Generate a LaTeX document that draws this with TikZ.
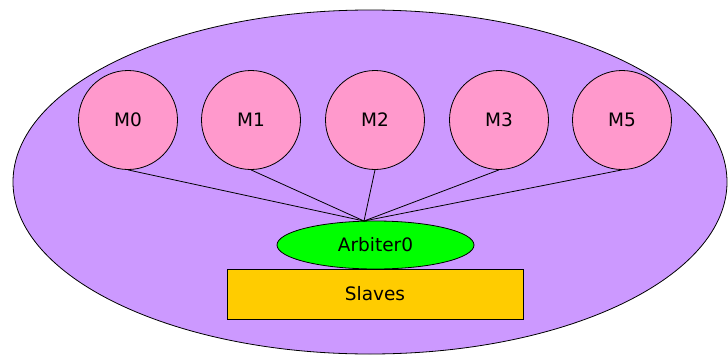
\documentclass[tikz,border=0pt]{standalone}
\usepackage{fontspec}
\setmainfont{DejaVu Sans}
\usepackage{xcolor}
\usetikzlibrary{shapes.geometric}
\definecolor{busviolet}{HTML}{CC99FF}
\definecolor{masterpink}{HTML}{FF99CC}
\definecolor{arbgreen}{HTML}{00FF00}
\definecolor{slaveyellow}{HTML}{FFCC00}
\tikzset{
    bus_area/.style={ellipse, draw=black, line width=0.8pt, fill=busviolet, minimum width=714pt, minimum height=344pt, inner sep=0pt},
    master/.style={circle, draw=black, line width=0.8pt, fill=masterpink, minimum size=99pt, inner sep=0pt},
    arbiter/.style={ellipse, draw=black, line width=0.8pt, fill=arbgreen, minimum width=197pt, minimum height=48pt, inner sep=0pt},
    slaves/.style={rectangle, draw=black, line width=0.8pt, fill=slaveyellow, minimum width=296pt, minimum height=50pt, inner sep=0pt},
    bus_line/.style={line width=0.8pt, draw=black}
}

\begin{document}
\begin{tikzpicture}[x=1pt, y=-1pt, font=\fontsize{18.5}{22}\selectfont]
\useasboundingbox (0,0) rectangle (728,356);

\node[bus_area] (bus) at (370, 182) {};

\foreach \i/\x in {0/128, 1/251, 2/375, 3/499, 5/622} {
    \node[master] (m\i) at (\x, 120) {M\i};
}

\node[arbiter] (arb)    at (375.5, 245) {Arbiter0};
\node[slaves]  (slv)    at (375, 294) {Slaves};
\coordinate    (hub)    at (364, 221);

\foreach \i in {0,1,2,3,5} {
    \draw[bus_line] (m\i.south) -- (hub);
}

\end{tikzpicture}
\end{document}
